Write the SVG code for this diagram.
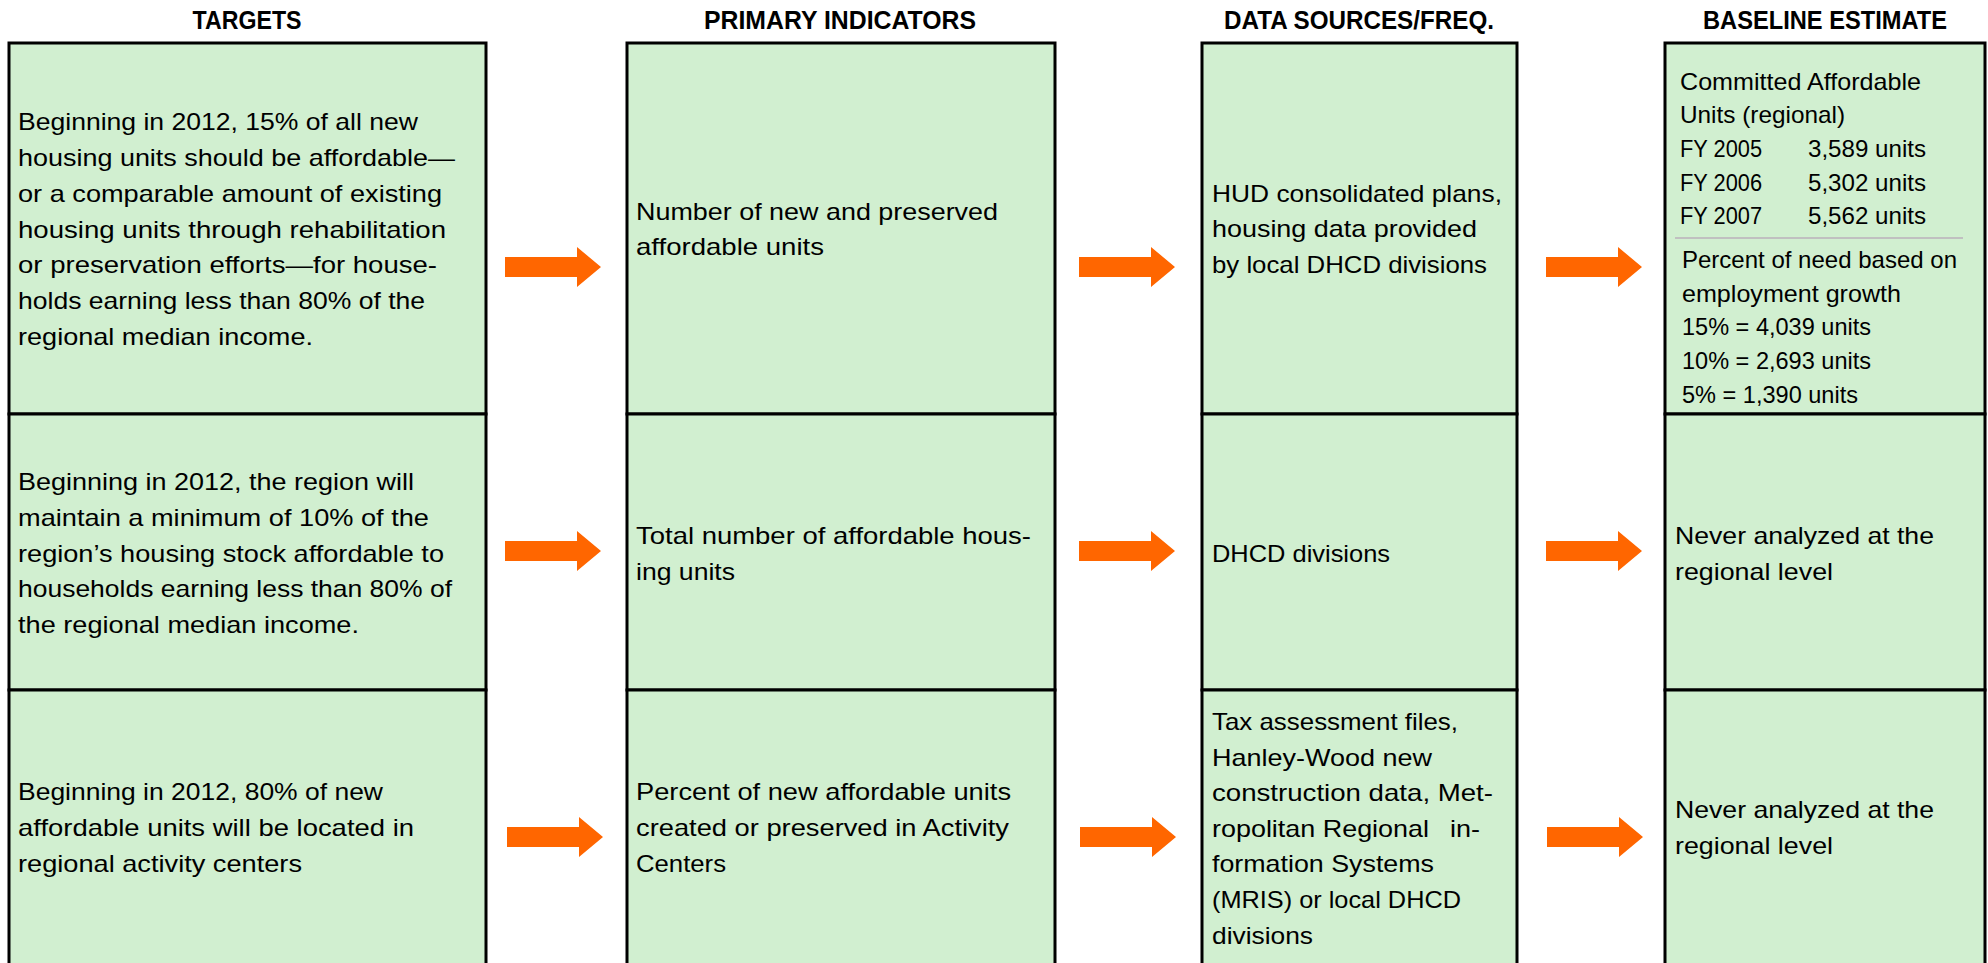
<svg xmlns="http://www.w3.org/2000/svg" xmlns:xlink="http://www.w3.org/1999/xlink" width="1988" height="963" viewBox="0 0 1988 963">
<style>
.box{fill:#D1EFD0;stroke:#000;stroke-width:3}
.t{font-family:"Liberation Sans",Arial,sans-serif;font-size:24px;fill:#000}
.h{font-family:"Liberation Sans",Arial,sans-serif;font-size:25px;font-weight:bold;fill:#000;text-anchor:middle}
.arrow{fill:#FF6600}
.sep{stroke:#C0C0C0;stroke-width:2}
</style>
<defs>
<path id="arr" d="M0,-10 H72 V-20 L96,0 L72,20 V10 H0 Z"/>
</defs>
<rect width="1988" height="963" fill="#fff"/>

<g id="headers">
<text class="h" x="247" y="29" textLength="109" lengthAdjust="spacingAndGlyphs">TARGETS</text>
<text class="h" x="840" y="29" textLength="272" lengthAdjust="spacingAndGlyphs">PRIMARY INDICATORS</text>
<text class="h" x="1359" y="29" textLength="270" lengthAdjust="spacingAndGlyphs">DATA SOURCES/FREQ.</text>
<text class="h" x="1825" y="29" textLength="244" lengthAdjust="spacingAndGlyphs">BASELINE ESTIMATE</text>
</g>

<g id="target1">
<rect class="box" x="9" y="43" width="477" height="371"/>
<text class="t">
<tspan x="18" y="130" textLength="400" lengthAdjust="spacingAndGlyphs">Beginning in 2012, 15% of all new</tspan>
<tspan x="18" y="166" textLength="437" lengthAdjust="spacingAndGlyphs">housing units should be affordable—</tspan>
<tspan x="18" y="202" textLength="424" lengthAdjust="spacingAndGlyphs">or a comparable amount of existing</tspan>
<tspan x="18" y="238" textLength="428" lengthAdjust="spacingAndGlyphs">housing units through rehabilitation</tspan>
<tspan x="18" y="273" textLength="419" lengthAdjust="spacingAndGlyphs">or preservation efforts—for house-</tspan>
<tspan x="18" y="309" textLength="407" lengthAdjust="spacingAndGlyphs">holds earning less than 80% of the</tspan>
<tspan x="18" y="345" textLength="295" lengthAdjust="spacingAndGlyphs">regional median income.</tspan>
</text>
</g>
<g id="target2">
<rect class="box" x="9" y="414" width="477" height="276"/>
<text class="t">
<tspan x="18" y="490" textLength="396" lengthAdjust="spacingAndGlyphs">Beginning in 2012, the region will</tspan>
<tspan x="18" y="526" textLength="411" lengthAdjust="spacingAndGlyphs">maintain a minimum of 10% of the</tspan>
<tspan x="18" y="562" textLength="426" lengthAdjust="spacingAndGlyphs">region’s housing stock affordable to</tspan>
<tspan x="18" y="597" textLength="434" lengthAdjust="spacingAndGlyphs">households earning less than 80% of</tspan>
<tspan x="18" y="633" textLength="341" lengthAdjust="spacingAndGlyphs">the regional median income.</tspan>
</text>
</g>
<g id="target3">
<rect class="box" x="9" y="690" width="477" height="290"/>
<text class="t">
<tspan x="18" y="800" textLength="365" lengthAdjust="spacingAndGlyphs">Beginning in 2012, 80% of new</tspan>
<tspan x="18" y="836" textLength="396" lengthAdjust="spacingAndGlyphs">affordable units will be located in</tspan>
<tspan x="18" y="872" textLength="284" lengthAdjust="spacingAndGlyphs">regional activity centers</tspan>
</text>
</g>

<g id="indicator1">
<rect class="box" x="627" y="43" width="428" height="371"/>
<text class="t">
<tspan x="636" y="220" textLength="362" lengthAdjust="spacingAndGlyphs">Number of new and preserved</tspan>
<tspan x="636" y="255" textLength="188" lengthAdjust="spacingAndGlyphs">affordable units</tspan>
</text>
</g>
<g id="indicator2">
<rect class="box" x="627" y="414" width="428" height="276"/>
<text class="t">
<tspan x="636" y="544" textLength="395" lengthAdjust="spacingAndGlyphs">Total number of affordable hous-</tspan>
<tspan x="636" y="580" textLength="99" lengthAdjust="spacingAndGlyphs">ing units</tspan>
</text>
</g>
<g id="indicator3">
<rect class="box" x="627" y="690" width="428" height="290"/>
<text class="t">
<tspan x="636" y="800" textLength="375" lengthAdjust="spacingAndGlyphs">Percent of new affordable units</tspan>
<tspan x="636" y="836" textLength="373" lengthAdjust="spacingAndGlyphs">created or preserved in Activity</tspan>
<tspan x="636" y="872" textLength="90" lengthAdjust="spacingAndGlyphs">Centers</tspan>
</text>
</g>

<g id="source1">
<rect class="box" x="1202" y="43" width="315" height="371"/>
<text class="t">
<tspan x="1212" y="202" textLength="290" lengthAdjust="spacingAndGlyphs">HUD consolidated plans,</tspan>
<tspan x="1212" y="237" textLength="265" lengthAdjust="spacingAndGlyphs">housing data provided</tspan>
<tspan x="1212" y="273" textLength="275" lengthAdjust="spacingAndGlyphs">by local DHCD divisions</tspan>
</text>
</g>
<g id="source2">
<rect class="box" x="1202" y="414" width="315" height="276"/>
<text class="t" x="1212" y="562" textLength="178" lengthAdjust="spacingAndGlyphs">DHCD divisions</text>
</g>
<g id="source3">
<rect class="box" x="1202" y="690" width="315" height="290"/>
<text class="t">
<tspan x="1212" y="730" textLength="246" lengthAdjust="spacingAndGlyphs">Tax assessment files,</tspan>
<tspan x="1212" y="766" textLength="220" lengthAdjust="spacingAndGlyphs">Hanley-Wood new</tspan>
<tspan x="1212" y="801" textLength="281" lengthAdjust="spacingAndGlyphs">construction data, Met-</tspan>
<tspan x="1212" y="837" textLength="217" lengthAdjust="spacingAndGlyphs">ropolitan Regional</tspan>
<tspan x="1450" y="837" textLength="30" lengthAdjust="spacingAndGlyphs">in-</tspan>
<tspan x="1212" y="872" textLength="222" lengthAdjust="spacingAndGlyphs">formation Systems</tspan>
<tspan x="1212" y="908" textLength="249" lengthAdjust="spacingAndGlyphs">(MRIS) or local DHCD</tspan>
<tspan x="1212" y="944" textLength="101" lengthAdjust="spacingAndGlyphs">divisions</tspan>
</text>
</g>

<g id="baseline1">
<rect class="box" x="1665" y="43" width="320" height="371"/>
<text class="t">
<tspan x="1680" y="90" textLength="241" lengthAdjust="spacingAndGlyphs">Committed Affordable</tspan>
<tspan x="1680" y="123" textLength="165" lengthAdjust="spacingAndGlyphs">Units (regional)</tspan>
<tspan x="1680" y="157" textLength="82" lengthAdjust="spacingAndGlyphs">FY 2005</tspan>
<tspan x="1808" y="157" textLength="118" lengthAdjust="spacingAndGlyphs">3,589 units</tspan>
<tspan x="1680" y="191" textLength="82" lengthAdjust="spacingAndGlyphs">FY 2006</tspan>
<tspan x="1808" y="191" textLength="118" lengthAdjust="spacingAndGlyphs">5,302 units</tspan>
<tspan x="1680" y="224" textLength="82" lengthAdjust="spacingAndGlyphs">FY 2007</tspan>
<tspan x="1808" y="224" textLength="118" lengthAdjust="spacingAndGlyphs">5,562 units</tspan>
</text>
<line class="sep" x1="1675" y1="238" x2="1963" y2="238"/>
<text class="t">
<tspan x="1682" y="268" textLength="275" lengthAdjust="spacingAndGlyphs">Percent of need based on</tspan>
<tspan x="1682" y="302" textLength="219" lengthAdjust="spacingAndGlyphs">employment growth</tspan>
<tspan x="1682" y="335" textLength="189" lengthAdjust="spacingAndGlyphs">15% = 4,039 units</tspan>
<tspan x="1682" y="369" textLength="189" lengthAdjust="spacingAndGlyphs">10% = 2,693 units</tspan>
<tspan x="1682" y="403" textLength="176" lengthAdjust="spacingAndGlyphs">5% = 1,390 units</tspan>
</text>
</g>
<g id="baseline2">
<rect class="box" x="1665" y="414" width="320" height="276"/>
<text class="t">
<tspan x="1675" y="544" textLength="259" lengthAdjust="spacingAndGlyphs">Never analyzed at the</tspan>
<tspan x="1675" y="580" textLength="158" lengthAdjust="spacingAndGlyphs">regional level</tspan>
</text>
</g>
<g id="baseline3">
<rect class="box" x="1665" y="690" width="320" height="290"/>
<text class="t">
<tspan x="1675" y="818" textLength="259" lengthAdjust="spacingAndGlyphs">Never analyzed at the</tspan>
<tspan x="1675" y="854" textLength="158" lengthAdjust="spacingAndGlyphs">regional level</tspan>
</text>
</g>

<g id="connectors" class="arrow">
<use xlink:href="#arr" href="#arr" x="505" y="267"/>
<use xlink:href="#arr" href="#arr" x="1079" y="267"/>
<use xlink:href="#arr" href="#arr" x="1546" y="267"/>
<use xlink:href="#arr" href="#arr" x="505" y="551"/>
<use xlink:href="#arr" href="#arr" x="1079" y="551"/>
<use xlink:href="#arr" href="#arr" x="1546" y="551"/>
<use xlink:href="#arr" href="#arr" x="507" y="837"/>
<use xlink:href="#arr" href="#arr" x="1080" y="837"/>
<use xlink:href="#arr" href="#arr" x="1547" y="837"/>
</g>
</svg>
